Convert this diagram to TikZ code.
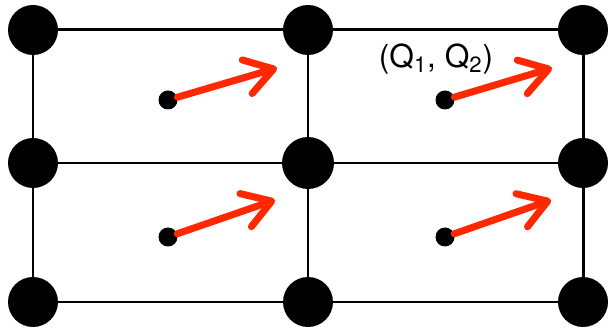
\documentclass[tikz,border=0pt]{standalone}
\usepackage{fontspec}
\setmainfont{TeX Gyre Heros}
\usepackage{xcolor}
\usetikzlibrary{arrows.meta}

\definecolor{vecred}{RGB}{255,40,0}

\begin{document}
\begin{tikzpicture}[
    x=0.02cm, y=-0.02cm,
    bigdot/.style={circle, fill=black, minimum size=1.0cm, inner sep=0pt},
    smalldot/.style={circle, fill=black, minimum size=0.38cm, inner sep=0pt},
    gridline/.style={line width=1.7pt, black},
    vec/.style={line width=4pt, vecred, line cap=round, -{Straight Barb[length=0.55cm, width=0.7cm, round]}},
    qlabel/.style={font=\fontsize{18}{21}\selectfont}
]
\useasboundingbox (0,0) rectangle (608,333);

% grid points
\node[bigdot] (a1) at (33,30) {};
\node[bigdot] (a2) at (308,30) {};
\node[bigdot] (a3) at (583,30) {};
\node[bigdot] (b1) at (33,163) {};
\node[bigdot, minimum size=1.04cm] (b2) at (308,163) {};
\node[bigdot] (b3) at (583,163) {};
\node[bigdot] (c1) at (33,302) {};
\node[bigdot] (c2) at (308,302) {};
\node[bigdot] (c3) at (583,302) {};

% cell centres
\node[smalldot] (s1) at (168,100) {};
\node[smalldot] (s2) at (445,100) {};
\node[smalldot] (s3) at (168,237) {};
\node[smalldot] (s4) at (445,237) {};

\coordinate (t1) at (277,68);
\coordinate (t2) at (552,68);
\coordinate (t3) at (275,200);
\coordinate (t4) at (551,200);

\draw[gridline] (a1) -- (a2);
\draw[gridline] (a2) -- (a3);
\draw[gridline] (b1) -- (b2);
\draw[gridline] (b2) -- (b3);
\draw[gridline] (c1) -- (c2);
\draw[gridline] (c2) -- (c3);
\draw[gridline] (a1) -- (b1);
\draw[gridline] (b1) -- (c1);
\draw[gridline] (a2) -- (b2);
\draw[gridline] (b2) -- (c2);
\draw[gridline] (a3) -- (b3);
\draw[gridline] (b3) -- (c3);

\draw[vec] (s1) -- (t1);
\draw[vec] (s2) -- (t2);
\draw[vec] (s3) -- (t3);
\draw[vec] (s4) -- (t4);

\node[qlabel] (q) at (436,59) {(Q\textsubscript{1}, Q\textsubscript{2})};
\end{tikzpicture}
\end{document}
